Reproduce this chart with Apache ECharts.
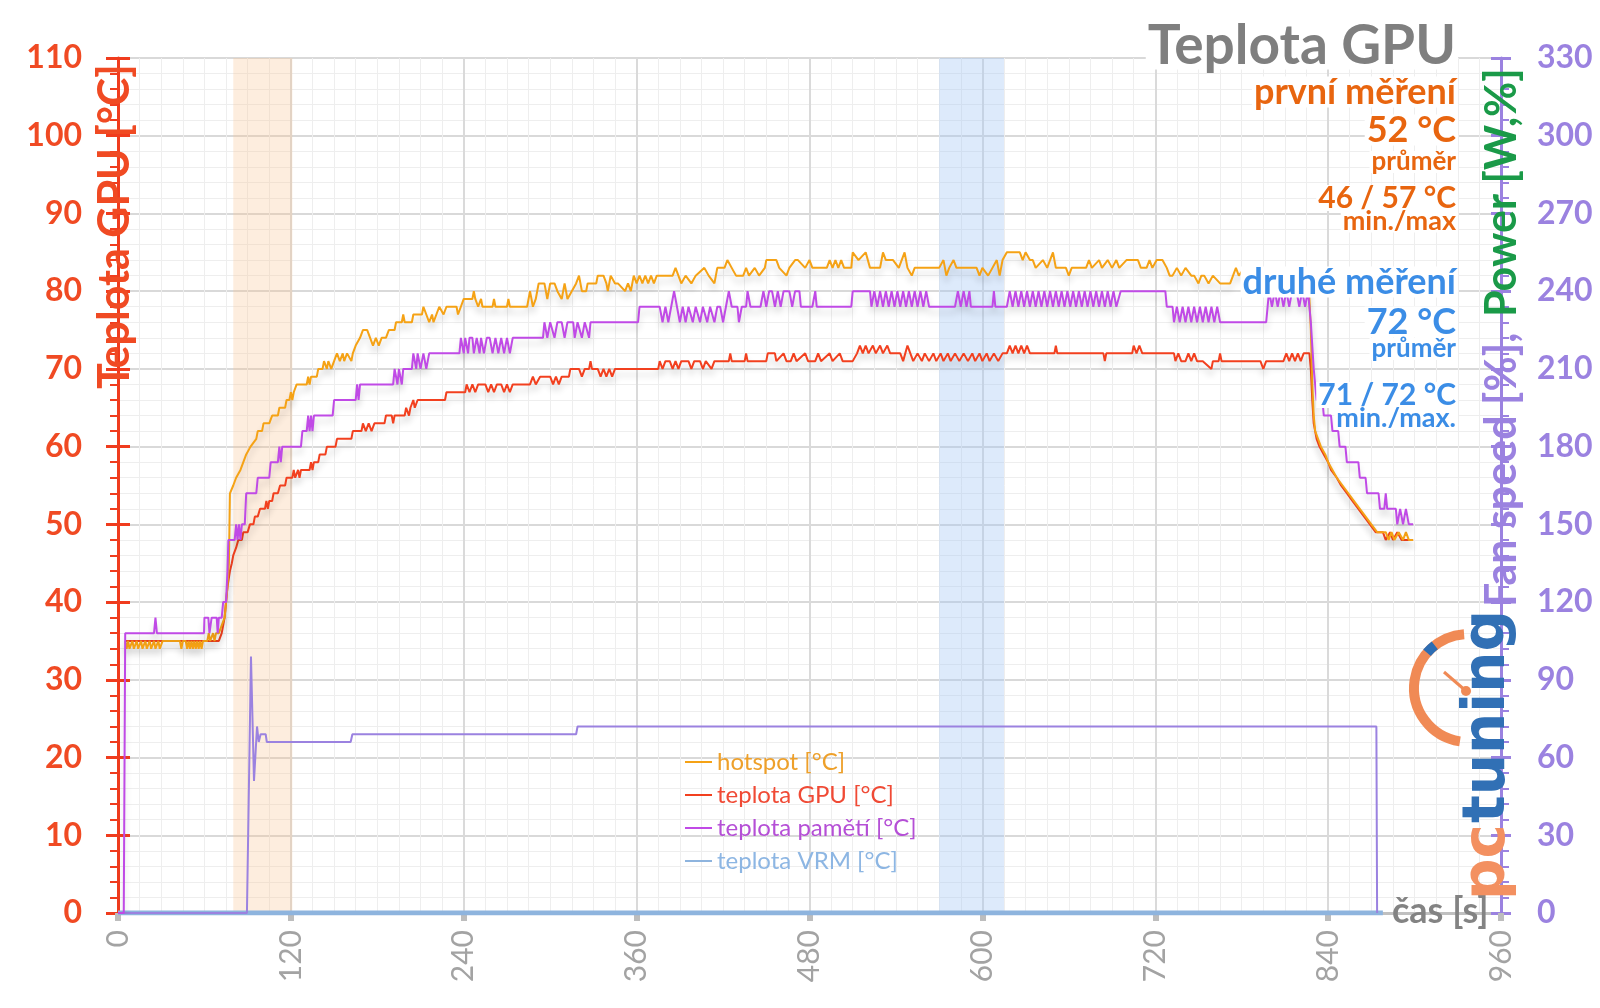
<!DOCTYPE html>
<html><head><meta charset="utf-8">
<script src="https://cdn.jsdelivr.net/npm/echarts@6/dist/echarts.min.js"></script>
<style>html,body{margin:0;padding:0;background:#fff}#c{width:1600px;height:1008px}</style>
</head><body><div id="c"></div>
<script>
// ---- data (time [s], value) ----
const legendNames = ['hotspot [°C]', 'teplota GPU [°C]', 'teplota pamětí [°C]', 'teplota VRM [°C]'];
const bandFirst = [80, 121];
const bandSecond = [570, 615];

const hotspot = [[5,35],[6,34],[7,35],[8,34],[10,35],[11,34],[13,35],[14,34],[16,35],[17,34],[19,35],[20,34],[22,35],[23,34],[25,35],[26,34],[28,35],[29,34],[31,35],[43,35],[44,34],[45,35],[47,35],[48,34],[49,35],[50,34],[51,35],[52,34],[53,35],[54,34],[55,35],[56,34],[57,35],[58,34],[59,35],[62,35],[63,36],[64,35],[66,36],[67,35],[68,36],[70,36],[72,37],[74,38],[75,40],[76,42],[77,45],[77.7,54],
[80,55],[82,56],[85,57],[87,58],[89,59],[92,60],[96,61],[97,62],[100,62],[101,63],[105,63],[107,64],[111,64],[112,65],[116,65],[117,66],[119,66],[120,67],[121,66],[122,67],[123,67],[124,68],[131,68],[132,69],[133,68],[134,69],[138,69],[139,70],[142,70],[143,71],[145,70],[146,71],[148,70],[150,71],[152,72],[154,71],[156,72],[157,71],[159,72],[162,71],[163,72],[165,73],[168,74],[170,75],[173,75],[175,74],[177,73],[179,74],[181,73],[183,74],[186,74],[188,75],[192,75],[193,76],[197,76],[198,77],[199,76],[204,76],[205,77],[211,77],[212,78],[214,77],[216,76],[218,77],[219,76],[221,77],[223,78],[226,77],[228,78],[235,78],[236,77],[238,78],[240,79],[246,79],[247,80],[248,79],[250,78],[252,79],[253,78],[260,78],[261,79],[262,78],[270,78],[271,79],[272,78],[284,78],[286,80],[288,78],[290,79],[292,81],[296,81],[298,79],[300,81],[303,81],[305,80],[308,79],[310,81],[312,79],[318,81],[320,82],[322,80],[325,80],[326,81],[332,81],[333,82],[337,82],[339,81],[340,80],[342,82],[345,81],[347,81],[352,80],[354,81],[356,80],[358,82],[360,81],[362,82],[364,81],[366,82],[368,81],[370,82],[372,81],[374,82],[385,82],[387,83],[389,82],[391,81],[394,82],[398,81],[401,82],[407,83],[410,82],[414,81],[416,83],[421,83],[423,84],[426,83],[429,82],[434,82],[436,83],[438,82],[442,83],[445,82],[449,83],[450,84],[457,84],[459,83],[464,82],[466,83],[470,84],[472,84],[477,83],[480,84],[482,83],[492,83],[494,84],[496,83],[498,84],[500,83],[502,84],[504,83],[509,83],[510,85],[514,84],[519,85],[522,83],[529,83],[531,85],[533,84],[538,84],[542,83],[546,85],[548,83],[551,82],[553,83],[570,83],[573,84],[575,82],[577,83],[580,84],[582,83],[596,83],[598,82],[600,83],[604,82],[607,83],[610,84],[612,82],[614,84],[617,85],[626,85],[628,84],[630,85],[633,84],[635,84],[637,83],[642,84],[645,83],[649,85],[651,83],[658,83],[660,82],[662,83],[672,83],[674,84],[676,83],[681,84],[683,83],[687,84],[690,83],[693,84],[695,83],[700,84],[708,84],[710,83],[714,83],[716,84],[718,83],[721,84],[725,84],[728,83],[730,82],[732,82],[735,83],[738,82],[741,83],[745,82],[747,82],[750,81],[752,82],[754,82],[757,81],[760,82],[765,81],[772,81],[774,82],[776,83],[778,82],[782,83],[786,82],[792,83],[798,82],[804,83],[810,82],[816,83],[822,82],[826,83],[827,83],[828,75],[829,68],[830,64],[831,62],[833,61],[835,60],[838,59],[840,58],[843,57],[846,56],[850,55],[854,54],[858,53],[862,52],[866,51],[870,50],[874,49],[880,49],[882,48],[884,49],[886,48],[889,49],[892,48],[894,49],[896,48],[899,48]];

const gpuTemp = [[5,35],[70,35],[72,36],[74,38],[75,40],[76,42],[77.7,44],[79,45],[80,46],[82,47],[83.5,48],[86,48],[87,49],[90,49],[91.6,50],[94,50],[95,51],[97,51],[98.6,52],[102,52],[103,53],[104,52],[105,53],[107,53],[108,54],[111,54],[112.5,55],[116,55],[117,56],[121,56],[122,57],[123,56],[125,57],[126,56],[127,57],[133,57],[134,58],[135,57],[136,58],[139,58],[140,59],[144,59],[145,60],[151,60],[152,61],[162,61],[163,62],[169,62],[170,63],[172,62],[174,63],[176,62],[178,63],[185,63],[186,64],[190,64],[191,63],[192,64],[199,64],[200,65],[202,64],[203,65],[205,66],[206,65],[208,66],[210,66],[227,66],[228,67],[241,67],[242,68],[244,67],[246,68],[248,67],[250,68],[255,68],[257,67],[259,68],[261,67],[263,68],[266,68],[268,67],[270,68],[272,67],[274,68],[286,68],[288,69],[290,68],[293,69],[300,69],[302,68],[304,69],[306,68],[308,69],[313,69],[314,70],[320,70],[322,69],[324,70],[327,70],[328,71],[329,70],[333,70],[335,69],[337,70],[339,69],[341,70],[343,69],[345,70],[375,70],[376,71],[378,70],[380,71],[383,71],[385,70],[387,71],[389,70],[391,71],[396,71],[398,70],[400,71],[404,71],[406,70],[408,71],[412,70],[414,71],[424,71],[425,72],[426,71],[435,71],[436,72],[437,71],[450,71],[451,72],[456,72],[457,71],[462,72],[464,71],[467,71],[469,72],[471,71],[477,72],[479,71],[484,71],[486,72],[488,71],[494,72],[496,71],[501,72],[503,71],[510,71],[513,72],[515,73],[517,72],[519,73],[521,72],[524,73],[526,72],[529,73],[531,72],[534,73],[536,72],[543,72],[545,71],[548,73],[550,72],[552,71],[555,72],[558,71],[560,72],[563,71],[566,72],[568,71],[571,72],[573,71],[576,72],[578,71],[581,72],[584,71],[587,72],[590,71],[593,72],[595,71],[598,72],[600,71],[603,72],[605,71],[608,72],[611,71],[614,72],[617,72],[619,73],[621,72],[623,73],[625,72],[627,73],[629,72],[631,73],[633,72],[650,72],[651,73],[652,72],[684,72],[685,71],[686,72],[704,72],[705,73],[707,72],[709,73],[711,72],[733,72],[734,71],[736,72],[738,71],[741,71],[743,72],[745,71],[747,72],[749,71],[753,71],[759,70],[760,71],[764,71],[765,72],[766,71],[793,71],[795,70],[797,71],[809,71],[811,72],[813,71],[815,72],[817,71],[819,72],[821,71],[823,72],[827,72],[828,70],[829,66],[830,63],[832,61],[834,60],[837,59],[840,58],[842,57],[846,56],[849,55],[853,54],[857,53],[861,52],[865,51],[869,50],[873,49],[878,49],[880,48],[883,49],[885,48],[888,49],[891,48],[899,48]];

const memTemp = [[0,0],[4,0],[5,36],[25,36],[26,38],[27,36],[59.7,36],[60,38],[62.7,38],[63.5,36],[64.5,36],[65,38],[68.5,38],[69.2,36],[70,38],[72,38],[73,40],[75,40],[76,44],[76.6,48],[81,48],[82,50],[83,48],[84,50],[85,48],[86,50],[88,50],[89,54],[96,54],[97,56],[105,56],[106,58],[111,58],[112,60],[113,58],[114,60],[127,60],[128,62],[131,62],[132,64],[133,62],[134,64],[135,62],[136,64],[149,64],[150,66],[165,66],[166,68],[167,66],[168,68],[191,68],[192,70],[194,68],[195,70],[197,68],[198,70],[204,70],[205,72],[207,70],[208,72],[210,70],[212,72],[214,70],[216,72],[237,72],[238,74],[240,72],[241,74],[243,72],[244,74],[246,74],[247,72],[249,74],[251,72],[252,74],[254,72],[256,74],[258,74],[260,72],[262,74],[264,72],[266,74],[268,72],[270,74],[272,72],[274,74],[295,74],[296,76],[298,74],[300,76],[303,74],[305,76],[308,76],[310,74],[312,76],[316,76],[317,74],[319,76],[322,74],[324,76],[327,74],[328,76],[361,76],[362,78],[376,78],[378,76],[380,78],[382,76],[384,78],[386,80],[388,78],[390,76],[392,78],[394,76],[396,78],[399,76],[401,78],[404,76],[406,78],[409,76],[411,78],[414,76],[416,78],[418,78],[420,76],[422,78],[424,80],[426,78],[430,78],[431,76],[433,78],[436,78],[437,80],[439,78],[446,78],[448,80],[450,78],[452,80],[454,80],[456,78],[458,80],[460,78],[462,80],[466,80],[468,78],[470,80],[473,80],[474,78],[482,78],[484,80],[485,78],[509,78],[510,80],[522,80],[523,78],[525,80],[527,78],[529,80],[531,78],[533,80],[535,78],[537,80],[539,78],[541,80],[543,78],[545,80],[547,78],[549,80],[551,78],[553,80],[555,78],[557,80],[559,78],[561,80],[563,78],[581,78],[583,80],[585,78],[587,80],[589,78],[591,80],[592,78],[607,78],[608,80],[609,78],[617,78],[619,80],[621,78],[623,80],[625,78],[627,80],[629,78],[631,80],[633,78],[635,80],[637,78],[639,80],[641,78],[643,80],[645,78],[647,80],[649,78],[651,80],[653,78],[655,80],[657,78],[659,80],[661,78],[663,80],[665,78],[667,80],[669,78],[671,80],[673,78],[675,80],[677,78],[679,80],[681,78],[683,80],[685,78],[687,80],[689,78],[691,80],[693,78],[696,80],[727,80],[728,78],[732,78],[733,76],[735,78],[737,76],[739,78],[741,76],[743,78],[745,76],[747,78],[749,76],[751,78],[753,76],[755,78],[757,76],[759,78],[761,76],[763,78],[765,76],[797,76],[799,80],[801,78],[803,80],[805,78],[807,80],[809,78],[811,80],[813,78],[815,80],[818,80],[820,78],[822,80],[824,78],[826,80],[828,76],[830,70],[832,66],[836,66],[837,64],[842,64],[843,62],[847,62],[848,60],[852,60],[853,58],[861,58],[862,56],[866,56],[867,54],[875,54],[876,52],[879,52],[880,54],[881,52],[887,52],[888,50],[890,52],[892,50],[894,52],[896,50],[899,50]];

const vrmTemp = [[0,0],[878,0]];
// fan speed on the right axis [%]
const fanSpeed = [[0,0],[89.5,0],[92.3,99],[94.4,51],[96.5,72],[97.7,66],[99,69],[102.5,69],[103.3,66],[161.5,66],[162.7,69],[318,69],[319,72],[873.5,72],[874,0]];

// ---- chart ----
const chart = echarts.init(document.getElementById('c'));
const FONT = 'Lato, "Open Sans", sans-serif';
const RED = '#f03c1e', PURPLE = '#9b82e0', ORANGE_T = '#e8650f', BLUE_T = '#3b8de6';
const shadow = {shadowColor:'rgba(0,0,0,0.16)', shadowBlur:6, shadowOffsetY:6};

function note(text, y, size, color) {
  return {
    type:'text', x:1458, y:y, z:100,
    style:{text:text, font:'bold ' + size + 'px ' + FONT, fill:color, textAlign:'right', textVerticalAlign:'middle',
      backgroundColor:'#fff', padding:[0,2], lineHeight: Math.round(size*0.85)}
  };
}
function vtext(text, x, y, size, color, family) {
  return {type:'text', x:x, y:y, rotation:Math.PI/2, z:100,
    style:{text:text, font:'bold ' + size + 'px ' + (family || FONT), fill:color, textAlign:'left', textVerticalAlign:'middle'}};
}

const option = {
  animation:false,
  backgroundColor:'#fff',
  grid:{left:118, right:99, top:58, bottom:95},
  legend:{
    orient:'vertical', left:680, top:745, itemGap:9, itemWidth:27, itemHeight:2, icon:'rect',
    selectedMode:false,
    textStyle:{fontSize:24, fontFamily:FONT},
    data:[
      {name:legendNames[0], textStyle:{color:'#eea02a'}},
      {name:legendNames[1], textStyle:{color:'#f04a35'}},
      {name:legendNames[2], textStyle:{color:'#b54fd6'}},
      {name:legendNames[3], textStyle:{color:'#8db6e3'}}
    ]
  },
  xAxis:{
    type:'value', min:0, max:960, interval:120,
    axisLine:{show:true, onZero:false, lineStyle:{color:'#c0c0c0', width:3}},
    axisTick:{show:true, length:8, lineStyle:{color:'#bdbdbd', width:6}},
    axisLabel:{rotate:90, margin:17, fontSize:30, color:'#a3a3a3', fontFamily:FONT},
    splitLine:{show:true, lineStyle:{color:'#dadada', width:2}},
    minorTick:{show:false, splitNumber:8},
    minorSplitLine:{show:true, lineStyle:{color:'#eeeeee', width:1}}
  },
  yAxis:[
    {type:'value', position:'left', min:0, max:110, interval:10,
      axisLine:{show:true, onZero:false, lineStyle:{color:RED, width:3}},
      axisTick:{show:true, length:12, lineStyle:{color:RED, width:3}},
      minorTick:{show:true, splitNumber:5, length:8, lineStyle:{color:RED, width:2}},
      axisLabel:{margin:36, fontSize:32, fontWeight:'bold', color:'#f04a23', fontFamily:FONT},
      splitLine:{show:true, lineStyle:{color:'#d9d9d9', width:2}},
      minorSplitLine:{show:true, lineStyle:{color:'#eeeeee', width:1}}},
    {type:'value', position:'right', min:0, max:330, interval:30,
      axisLine:{show:true, onZero:false, lineStyle:{color:PURPLE, width:3}},
      axisTick:{show:true, length:10, lineStyle:{color:PURPLE, width:3}},
      minorTick:{show:true, splitNumber:5, length:8, lineStyle:{color:PURPLE, width:2}},
      axisLabel:{margin:36, fontSize:32, fontWeight:'bold', color:PURPLE, fontFamily:FONT},
      splitLine:{show:false}},
    {type:'value', position:'left', min:0, max:110, interval:10,
      axisLine:{show:false}, axisLabel:{show:false}, splitLine:{show:false},
      axisTick:{show:true, inside:true, length:12, lineStyle:{color:RED, width:3}}},
    {type:'value', position:'right', min:0, max:330, interval:30,
      axisLine:{show:false}, axisLabel:{show:false}, splitLine:{show:false},
      axisTick:{show:true, inside:true, length:10, lineStyle:{color:PURPLE, width:3}}}
  ],
  series:[
    {name:'bands', type:'line', data:[[0,0]], symbol:'none', lineStyle:{opacity:0}, z:1, silent:true,
      markArea:{silent:true, data:[
        [{xAxis:bandFirst[0], itemStyle:{color:'rgba(248,196,145,0.3)'}},{xAxis:bandFirst[1]}],
        [{xAxis:bandSecond[0], itemStyle:{color:'rgba(165,200,245,0.38)'}},{xAxis:bandSecond[1]}]
      ]}},
    {name:legendNames[3], type:'line', data:vrmTemp, symbol:'none', color:'#8eb4de', lineStyle:{width:5, color:'#8eb4de'}, z:2},
    {name:'fan speed [%]', type:'line', yAxisIndex:1, data:fanSpeed, symbol:'none', color:PURPLE, lineStyle:{width:2, color:'#9b82e0'}, z:2},
    {name:legendNames[1], type:'line', data:gpuTemp, symbol:'none', color:'#f2401f', lineStyle:Object.assign({width:2, color:'#f2401f'}, shadow), z:3},
    {name:legendNames[0], type:'line', data:hotspot, symbol:'none', color:'#f5a215', lineStyle:Object.assign({width:2, color:'#f5a215'}, shadow), z:3},
    {name:legendNames[2], type:'line', data:memTemp, symbol:'none', color:'#c04ae6', lineStyle:Object.assign({width:2, color:'#c04ae6'}, shadow), z:3}
  ],
  graphic:[
    note('Teplota GPU', 46, 55, '#7f7f7f'),
    note('první měření', 92, 36, ORANGE_T),
    note('52 °C', 130, 36, ORANGE_T),
    note('průměr', 162, 26, ORANGE_T),
    note('46 / 57 °C', 198, 30, ORANGE_T),
    note('min./max', 221, 27, ORANGE_T),
    note('druhé měření', 282, 36, BLUE_T),
    note('72 °C', 322, 36, BLUE_T),
    note('průměr', 349, 26, BLUE_T),
    note('71 / 72 °C', 395, 30, BLUE_T),
    note('min./max.', 418, 27, BLUE_T),
    vtext('Teplota GPU [°C]', 115, 389, 43, '#f04a23'),
    vtext('Fan speed [%],', 1502, 607, 43, PURPLE),
    vtext('Power [W,%]', 1502, 317, 43, '#1a9a48'),
    {type:'text', x:1392, y:911, z:100, style:{text:'čas [s]', font:'bold 36px ' + FONT, fill:'#838383', textAlign:'left', textVerticalAlign:'middle'}},
    // logo
    {type:'arc', z:50, shape:{cx:1468, cy:688, r:54, startAngle:1.72, endAngle:4.64, clockwise:true}, style:{stroke:'#f08a55', lineWidth:10, fill:null}},
    {type:'arc', z:51, shape:{cx:1468, cy:688, r:54, startAngle:3.85, endAngle:4.05, clockwise:true}, style:{stroke:'#2d6db3', lineWidth:10, fill:null}},
    {type:'line', z:51, shape:{x1:1444, y1:672, x2:1466, y2:691}, style:{stroke:'#f08a55', lineWidth:3}},
    {type:'circle', z:51, shape:{cx:1466, cy:691, r:5}, style:{fill:'#f08a55'}},
    vtext('pc', 1489, 900, 58, '#f39060', '"DejaVu Sans"'),
    vtext('tuning', 1489, 823, 58, '#3170b5', '"DejaVu Sans"')
  ]
};
chart.setOption(option);
</script>
</body></html>
